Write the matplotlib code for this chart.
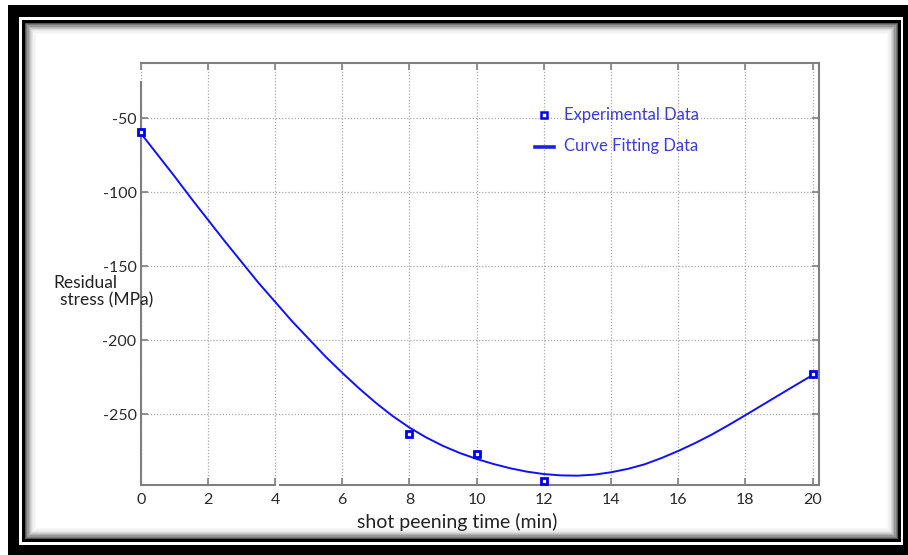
import matplotlib
matplotlib.use("Agg")
import matplotlib.pyplot as plt
from matplotlib.patches import Rectangle
from matplotlib.lines import Line2D

plt.rcParams["axes.unicode_minus"] = False

# ---- data ----
exp_x = [0, 8, 10, 12, 20]
exp_y = [-59, -263, -277, -295, -223]

fit_x = [0, 0.5, 1, 1.5, 2, 2.5, 3, 3.5, 4, 4.5, 5, 5.5, 6, 6.5, 7, 7.5, 8, 8.5,
         9, 9.5, 10, 10.5, 11, 11.5, 12, 12.5, 13, 13.5, 14, 14.5, 15, 15.5, 16,
         16.5, 17, 17.5, 18, 18.5, 19, 19.5, 20]
fit_y = [-60, -74.5, -89, -104, -118.5, -133, -147, -161, -174, -187, -199,
         -211, -222, -232.5, -242.3, -251.2, -259, -265.7, -271.4, -276.2, -280.2,
         -283.6, -286.5, -288.8, -290.4, -291.3, -291.5, -290.8, -289.2, -286.9,
         -283.8, -279.6, -274.8, -269.5, -263.7, -257.3, -250.6, -243.8, -237,
         -230.2, -223.5]

x_ticks = [0, 2, 4, 6, 8, 10, 12, 14, 16, 18, 20]
y_ticks = [-250, -200, -150, -100, -50]

W, H = 908, 555
fig = plt.figure(figsize=(W / 100, H / 100), dpi=100)
fig.patch.set_facecolor("white")

# ---- frame (overlay in pixel coordinates) ----
bg = fig.add_axes([0, 0, 1, 1], zorder=-1)
bg.set_xlim(0, W)
bg.set_ylim(H, 0)
bg.axis("off")
bg.add_patch(Rectangle((8, 5), W - 8, H - 5, facecolor="black", edgecolor="none"))
bg.add_patch(Rectangle((19, 17), 884, 528, facecolor="white", edgecolor="none"))
bg.add_patch(Rectangle((22, 20), 879, 522, facecolor="black", edgecolor="none"))
shades = ["#555555", "#7a7a7a", "#999999", "#b3b3b3", "#c8c8c8", "#dadada",
          "#e8e8e8", "#f2f2f2", "#f9f9f9", "#ffffff"]
x0, y0, x1, y1 = 25, 23, 898, 539
for i, c in enumerate(shades):
    d = i * 1.2
    bg.add_patch(Rectangle((x0 + d, y0 + d), (x1 - x0) - 2 * d, (y1 - y0) - 2 * d,
                           facecolor=c, edgecolor="none"))

# ---- main axes ----
left, right, top, bottom = 140.7, 819, 63.3, 485
ax = fig.add_axes([left / W, 1 - bottom / H, (right - left) / W, (bottom - top) / H])
ax.set_facecolor("white")
ax.set_xlim(0, 20.19)
ax.set_ylim(-297.8, -12.8)

ax.grid(True, linestyle=(0, (1, 1.5)), color="#a8a8a8", linewidth=0.9)
ax.set_axisbelow(True)

ax.plot(fit_x, fit_y, color="#1010ff", linewidth=1.4, zorder=3)
ax.plot(exp_x, exp_y, linestyle="none", marker="s", markersize=5,
        markerfacecolor="white", markeredgecolor="#0000ee", markeredgewidth=2,
        clip_on=False, zorder=4)

for s in ax.spines.values():
    s.set_color("#7f7f7f")
    s.set_linewidth(1.5)
ax.spines["left"].set_bounds(-297.8, -25.5)

ax.set_xticks(x_ticks)
ax.set_yticks(y_ticks)
ax.tick_params(axis="both", which="both", direction="in", length=5, width=1.2,
               color="#7f7f7f", top=True, right=True, labelcolor="#2a2a2a")
tick_font = ["Liberation Sans Narrow", "Lato", "DejaVu Sans"]
for lab in ax.get_xticklabels() + ax.get_yticklabels():
    lab.set_fontfamily(tick_font)
    lab.set_fontsize(11.5)
ax.tick_params(axis="x", pad=6)
ax.tick_params(axis="y", pad=3)

# small break in x-axis after tick 4
ax.add_patch(Rectangle((4.02, -300), 0.11, 4, facecolor="white", edgecolor="none",
                       clip_on=False, zorder=5))

# ---- legend (figure-level artists, pixel positions converted) ----
def fx(px):
    return px / W

def fy(py):
    return 1 - py / H

leg_col = "#3c3cd8"
fig.add_artist(Line2D([fx(544)], [fy(115)], marker="s", markersize=4.5,
                      markerfacecolor="white", markeredgecolor="#0000ee",
                      markeredgewidth=1.8, linestyle="none",
                      transform=fig.transFigure, zorder=10))
fig.add_artist(Line2D([fx(535), fx(554)], [fy(147), fy(147)], color="#2020e0",
                      linewidth=2.6, transform=fig.transFigure, zorder=10))
fig.text(fx(564), fy(115), "Experimental Data", color=leg_col,
         fontfamily=["Lato", "DejaVu Sans"], fontsize=12, va="center", ha="left")
fig.text(fx(564), fy(146), "Curve Fitting Data", color=leg_col,
         fontfamily=["Lato", "DejaVu Sans"], fontsize=12, va="center", ha="left")

# ---- axis labels ----
lab_font = ["Lato", "DejaVu Sans"]
fig.text(fx(457), fy(522), "shot peening time (min)", color="#222222",
         fontfamily=lab_font, fontsize=14, ha="center", va="center")
fig.text(fx(53), fy(283), "Residual", color="#222222",
         fontfamily=lab_font, fontsize=12.5, ha="left", va="center")
fig.text(fx(60), fy(300), "stress (MPa)", color="#222222",
         fontfamily=lab_font, fontsize=12.5, ha="left", va="center")

fig.savefig("out.png", dpi=100)
